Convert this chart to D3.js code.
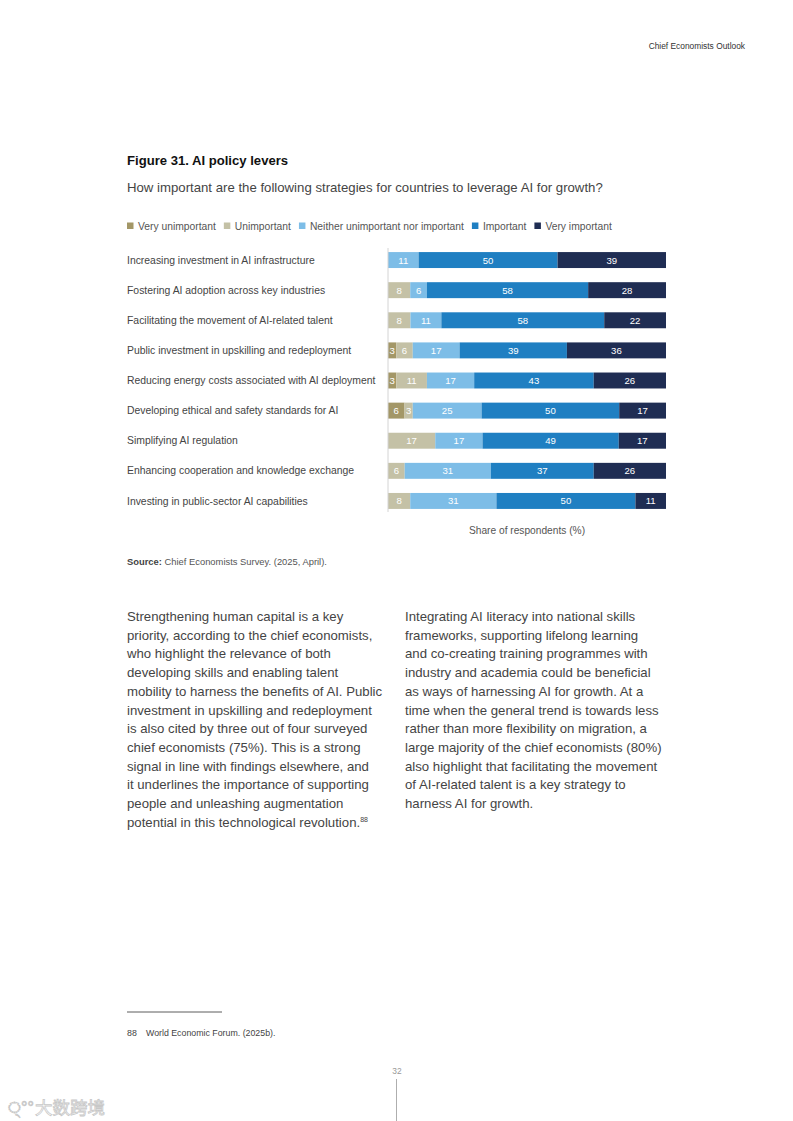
<!DOCTYPE html>
<html>
<head>
<meta charset="utf-8">
<script src="https://cdn.jsdelivr.net/npm/d3@7"></script>
<style>
  html, body { margin: 0; padding: 0; background: #fff; }
  svg { display: block; font-family: "Liberation Sans", Arial, sans-serif; }
</style>
</head>
<body>
<div id="page"></div>
<script>
// chart data
const categories = [
  "Increasing investment in AI infrastructure",
  "Fostering AI adoption across key industries",
  "Facilitating the movement of AI-related talent",
  "Public investment in upskilling and redeployment",
  "Reducing energy costs associated with AI deployment",
  "Developing ethical and safety standards for AI",
  "Simplifying AI regulation",
  "Enhancing cooperation and knowledge exchange",
  "Investing in public-sector AI capabilities"
];
const levels = ["Very unimportant", "Unimportant", "Neither unimportant nor important", "Important", "Very important"];
const veryUnimportant = [0, 0, 0, 3, 3, 6, 0, 0, 0];
const unimportant     = [0, 8, 8, 6, 11, 3, 17, 6, 8];
const neither         = [11, 6, 11, 17, 17, 25, 17, 31, 31];
const important       = [50, 58, 58, 39, 43, 50, 49, 37, 50];
const veryImportant   = [39, 28, 22, 36, 26, 17, 17, 26, 11];
const levelColors = ["#a39767", "#c4c1a6", "#7dbde7", "#1f7fc2", "#1f2d53"];

const leftText = [
  "Strengthening human capital is a key",
  "priority, according to the chief economists,",
  "who highlight the relevance of both",
  "developing skills and enabling talent",
  "mobility to harness the benefits of AI. Public",
  "investment in upskilling and redeployment",
  "is also cited by three out of four surveyed",
  "chief economists (75%). This is a strong",
  "signal in line with findings elsewhere, and",
  "it underlines the importance of supporting",
  "people and unleashing augmentation",
  "potential in this technological revolution."
];
const rightText = [
  "Integrating AI literacy into national skills",
  "frameworks, supporting lifelong learning",
  "and co-creating training programmes with",
  "industry and academia could be beneficial",
  "as ways of harnessing AI for growth. At a",
  "time when the general trend is towards less",
  "rather than more flexibility on migration, a",
  "large majority of the chief economists (80%)",
  "also highlight that facilitating the movement",
  "of AI-related talent is a key strategy to",
  "harness AI for growth."
];

var W = 793, H = 1121;
var svg = d3.select("#page").append("svg")
    .attr("width", W).attr("height", H);

// page header
svg.append("text")
    .attr("x", 745).attr("y", 49)
    .attr("text-anchor", "end")
    .attr("font-size", 8.4).attr("fill", "#333")
    .text("Chief Economists Outlook");

svg.append("text")
    .attr("x", 127).attr("y", 165)
    .attr("font-size", 13.1).attr("font-weight", "bold").attr("fill", "#111")
    .text("Figure 31. AI policy levers");

svg.append("text")
    .attr("x", 127).attr("y", 192)
    .attr("font-size", 13.2).attr("fill", "#444")
    .text("How important are the following strategies for countries to leverage AI for growth?");

// legend
var legend = svg.append("g").attr("transform", "translate(127,226)");
var lx = 0;
levels.forEach(function(name, i) {
    var g = legend.append("g").attr("transform", `translate(${lx},0)`);
    g.append("rect").attr("x", 0).attr("y", -3.5).attr("width", 6.5).attr("height", 6.5)
        .attr("fill", levelColors[i]);
    var t = g.append("text").attr("x", 11).attr("y", 3.6)
        .attr("font-size", 10.3).attr("fill", "#555").text(name);
    lx += 11 + t.node().getComputedTextLength() + 8;
});

// bars
var rows = categories.map(function(c, i) {
    return {
        cat: c,
        "Very unimportant": veryUnimportant[i],
        "Unimportant": unimportant[i],
        "Neither unimportant nor important": neither[i],
        "Important": important[i],
        "Very important": veryImportant[i]
    };
});

var stack = d3.stack().keys(levels).offset(d3.stackOffsetExpand);
var series = stack(rows);

var x = d3.scaleLinear().domain([0, 1]).range([388, 666]);
var y = d3.scaleBand().domain(categories).range([245, 516]).paddingInner(0.47).paddingOuter(0.235);

var color = d3.scaleOrdinal().domain(levels).range(levelColors);

var chart = svg.append("g");

// category labels
chart.append("g").selectAll("text")
    .data(categories)
    .join("text")
    .attr("x", 127)
    .attr("y", d => y(d) + y.bandwidth() / 2)
    .attr("dy", "0.35em")
    .attr("font-size", 10.4).attr("fill", "#444")
    .text(d => d);

var layer = chart.append("g").selectAll("g")
    .data(series)
    .join("g")
    .attr("fill", d => color(d.key));

layer.selectAll("rect")
    .data(d => d.map(p => Object.assign(p, { key: d.key })))
    .join("rect")
    .filter(d => d.data[d.key] > 0)
    .attr("x", d => x(d[0]))
    .attr("y", d => y(d.data.cat))
    .attr("width", d => x(d[1]) - x(d[0]))
    .attr("height", y.bandwidth());

// value labels
var labels = chart.append("g").attr("text-anchor", "middle")
    .attr("font-size", 9.6).attr("fill", "#fff");
series.forEach(function(s) {
    s.forEach(function(d) {
        var v = d.data[s.key];
        if (!v) return;
        labels.append("text")
            .attr("x", (x(d[0]) + x(d[1])) / 2)
            .attr("y", y(d.data.cat) + y.bandwidth() / 2)
            .attr("dy", "0.36em")
            .text(v);
    });
});

// axis line
chart.append("line")
    .attr("x1", x(0)).attr("x2", x(0))
    .attr("y1", 248).attr("y2", 512)
    .attr("stroke", "#d4d4d4").attr("stroke-width", 1);

svg.append("text")
    .attr("x", (x(0) + x(1)) / 2).attr("y", 534)
    .attr("text-anchor", "middle")
    .attr("font-size", 10.2).attr("fill", "#555")
    .text("Share of respondents (%)");

// source
var src = svg.append("text").attr("x", 127).attr("y", 565)
    .attr("font-size", 9.4).attr("fill", "#555");
src.append("tspan").attr("font-weight", "bold").attr("fill", "#444").text("Source: ");
src.append("tspan").text("Chief Economists Survey. (2025, April).");

// body text columns
function column(lines, x0) {
    var t = svg.append("text").attr("font-size", 13.2).attr("fill", "#444");
    lines.forEach(function(l, i) {
        t.append("tspan").attr("x", x0).attr("y", 621 + i * 18.7).text(l);
    });
    return t;
}
var lt = column(leftText, 127);
lt.append("tspan").attr("font-size", 7).attr("dy", -5).text("88");
column(rightText, 405);

// footnote
svg.append("line").attr("x1", 127).attr("x2", 222).attr("y1", 1012).attr("y2", 1012)
    .attr("stroke", "#333").attr("stroke-width", 0.8);
svg.append("text").attr("x", 127).attr("y", 1036)
    .attr("font-size", 8.8).attr("fill", "#444").text("88");
svg.append("text").attr("x", 146).attr("y", 1036)
    .attr("font-size", 8.8).attr("fill", "#444")
    .text("World Economic Forum. (2025b).");

// page number
svg.append("text").attr("x", 397).attr("y", 1074).attr("text-anchor", "middle")
    .attr("font-size", 8.4).attr("fill", "#999").text("32");
svg.append("line").attr("x1", 396.5).attr("x2", 396.5).attr("y1", 1079).attr("y2", 1121)
    .attr("stroke", "#999").attr("stroke-width", 0.8);

// watermark
var wm = svg.append("g").attr("fill", "#fff").attr("stroke", "#c8c8c8").attr("stroke-width", 0.8);
wm.append("text").attr("x", 8).attr("y", 1113)
    .attr("font-size", 16).text("\u0a4d\u00b0\u00b0");
wm.append("text").attr("x", 35).attr("y", 1114)
    .attr("font-family", "'Noto Sans CJK SC', sans-serif")
    .attr("font-size", 17.5)
    .text("大数跨境");
</script>
</body>
</html>
